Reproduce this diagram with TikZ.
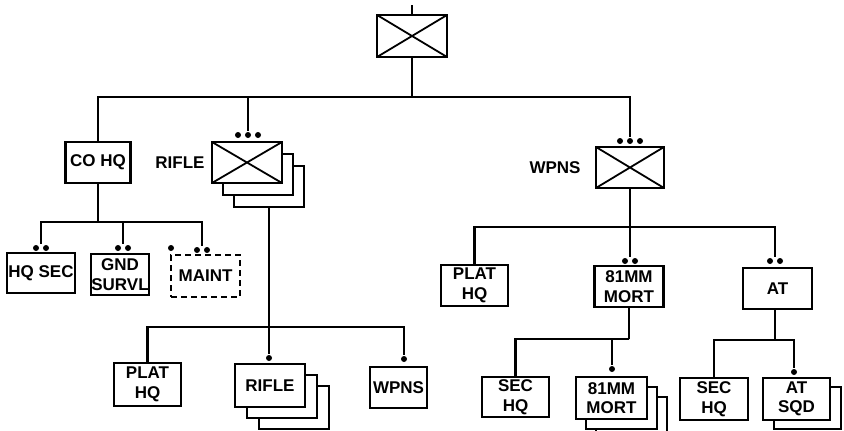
\documentclass[tikz,border=0pt]{standalone}
\usepackage{fontspec}
\setmainfont{Liberation Sans}
\begin{document}
\begin{tikzpicture}[x=1pt,y=-1pt,
  every node/.style={font=\fontsize{17}{19.5}\selectfont\bfseries},
  ubox/.style={draw,line width=2.3pt,fill=white,inner sep=0pt,align=center,minimum width=#1},
  ubox/.default=68pt,
  crossbox/.style={draw,line width=2.3pt,fill=white,inner sep=0pt,minimum width=70pt,minimum height=41pt,
    path picture={\draw[line width=1.8pt] (path picture bounding box.north west) -- (path picture bounding box.south east)
      (path picture bounding box.south west) -- (path picture bounding box.north east);}},
  plainbox/.style={draw,line width=2.3pt,fill=white,inner sep=0pt,minimum width=70pt,minimum height=41pt},
  dthree/.style={inner sep=0pt,minimum width=34pt,minimum height=8pt,
    path picture={\fill[shift={(path picture bounding box.center)}] (-10pt,0pt) circle (3pt) (0pt,0pt) circle (3pt) (10pt,0pt) circle (3pt);}},
  dtwo/.style={inner sep=0pt,minimum width=24pt,minimum height=8pt,
    path picture={\fill[shift={(path picture bounding box.center)}] (-5pt,0pt) circle (3pt) (5pt,0pt) circle (3pt);}},
  done/.style={inner sep=0pt,minimum width=8pt,minimum height=8pt,
    path picture={\fill (path picture bounding box.center) circle (3pt);}},
  conn/.style={line width=2.3pt},
  lbl/.style={inner sep=0pt}
]
\useasboundingbox (0,0) rectangle (844,431);

% top
\coordinate (topT) at (412,5);
\node[crossbox,minimum height=42pt] (top) at (412,36) {};
\coordinate (b0) at (412,97);

% company level
\node[ubox=65pt,minimum height=41pt] (coho) at (98,162.5) {CO HQ};
\node[lbl] (riflelbl) at (180,163) {RIFLE};
\node[plainbox] (rc2) at (269,186.5) {};
\node[plainbox] (rc1) at (258,174.5) {};
\node[crossbox] (rc) at (247,162.5) {};
\node[dthree] (rcd) at (248,135) {};
\node[lbl] (wpnslbl) at (555,168) {WPNS};
\node[crossbox,minimum width=68pt] (wc) at (630,167.5) {};
\node[dthree] (wcd) at (630,141) {};

% CO HQ children
\coordinate (b1) at (98,222);
\node[ubox=68pt,minimum height=40pt] (hqsec) at (41,273) {HQ SEC};
\node[dtwo] (hqsd) at (41,248) {};
\node[ubox=57pt,minimum height=41pt] (gnd) at (120,274.5) {GND\\SURVL};
\node[dtwo] (gndd) at (123,248) {};
\node[ubox=69pt,minimum height=42pt,dashed,dash pattern=on 6pt off 4pt] (maint) at (205.5,276) {MAINT};
\node[dtwo] (maintd) at (202,250) {};
\node[done] (maintc) at (171,248) {};

% rifle platoon level
\coordinate (b2) at (269,327);
\node[ubox=67pt,minimum height=43pt] (rphq) at (147.5,384.5) {PLAT\\HQ};
\node[ubox=70pt,minimum height=43pt] (rpr2) at (294,407.5) {};
\node[ubox=70pt,minimum height=43pt] (rpr1) at (282,396.5) {};
\node[ubox=70pt,minimum height=43pt] (rpr) at (270,385.5) {RIFLE};
\node[done] (rpd) at (269,358) {};
\node[ubox=57pt,minimum height=41pt] (rpw) at (398.5,387.5) {WPNS};
\node[done] (rpwd) at (404,359) {};

% weapons platoon level
\coordinate (b3) at (630,227);
\node[ubox=67pt,minimum height=41pt] (wphq) at (474.5,285.5) {PLAT\\HQ};
\node[ubox=69pt,minimum height=41pt] (wm) at (629,286.5) {81MM\\MORT};
\node[dtwo] (wmd) at (630,261) {};
\node[ubox=69pt,minimum height=41pt] (wat) at (777.5,288.5) {AT};
\node[dtwo] (watd) at (775,261) {};

% mortar section level
\coordinate (b4) at (629,339);
\node[ubox=67pt,minimum height=40pt] (msec) at (515.5,397) {SEC\\HQ};
\node[ubox=71pt,minimum height=42pt] (mm2) at (631.5,418) {};
\node[ubox=71pt,minimum height=42pt] (mm1) at (621.5,408) {};
\node[ubox=71pt,minimum height=42pt] (mm) at (611.5,398) {81MM\\MORT};
\node[done] (mmd) at (612,369) {};

% AT section level
\coordinate (b5) at (775,340);
\node[ubox=68pt,minimum height=42pt] (asec) at (714,399) {SEC\\HQ};
\node[ubox=67pt,minimum height=42pt] (atsq1) at (807.5,408) {};
\node[ubox=67pt,minimum height=42pt] (atsq) at (796.5,399) {AT\\SQD};
\node[done] (atd) at (794,372) {};

% connectors
\draw[conn] (topT) -- (top.north);
\draw[conn] (top.south) -- (b0);
\draw[conn] (coho.north) |- (b0) -| (wcd.north);
\draw[conn] (rcd.north) -- (rcd.north |- b0);
\draw[conn] (coho.south) -- (b1);
\draw[conn] (hqsd.north) |- (b1) -| (maintd.north);
\draw[conn] (gndd.north) -- (gndd.north |- b1);
\draw[conn] (rc2.south) -- (rpd.north);
\draw[conn] (rphq.north) |- (b2) -| (rpwd.north);
\draw[conn] (wc.south) -- (wmd.north);
\draw[conn] (wphq.north) |- (b3) -| (watd.north);
\draw[conn] (wm.south) -- (b4);
\draw[conn] (msec.north) |- (b4) -| (mmd.north);
\draw[conn] (b5) -- (b5 |- wat.south);
\draw[conn] (asec.north) |- (b5) -| (atd.north);
\end{tikzpicture}
\end{document}
